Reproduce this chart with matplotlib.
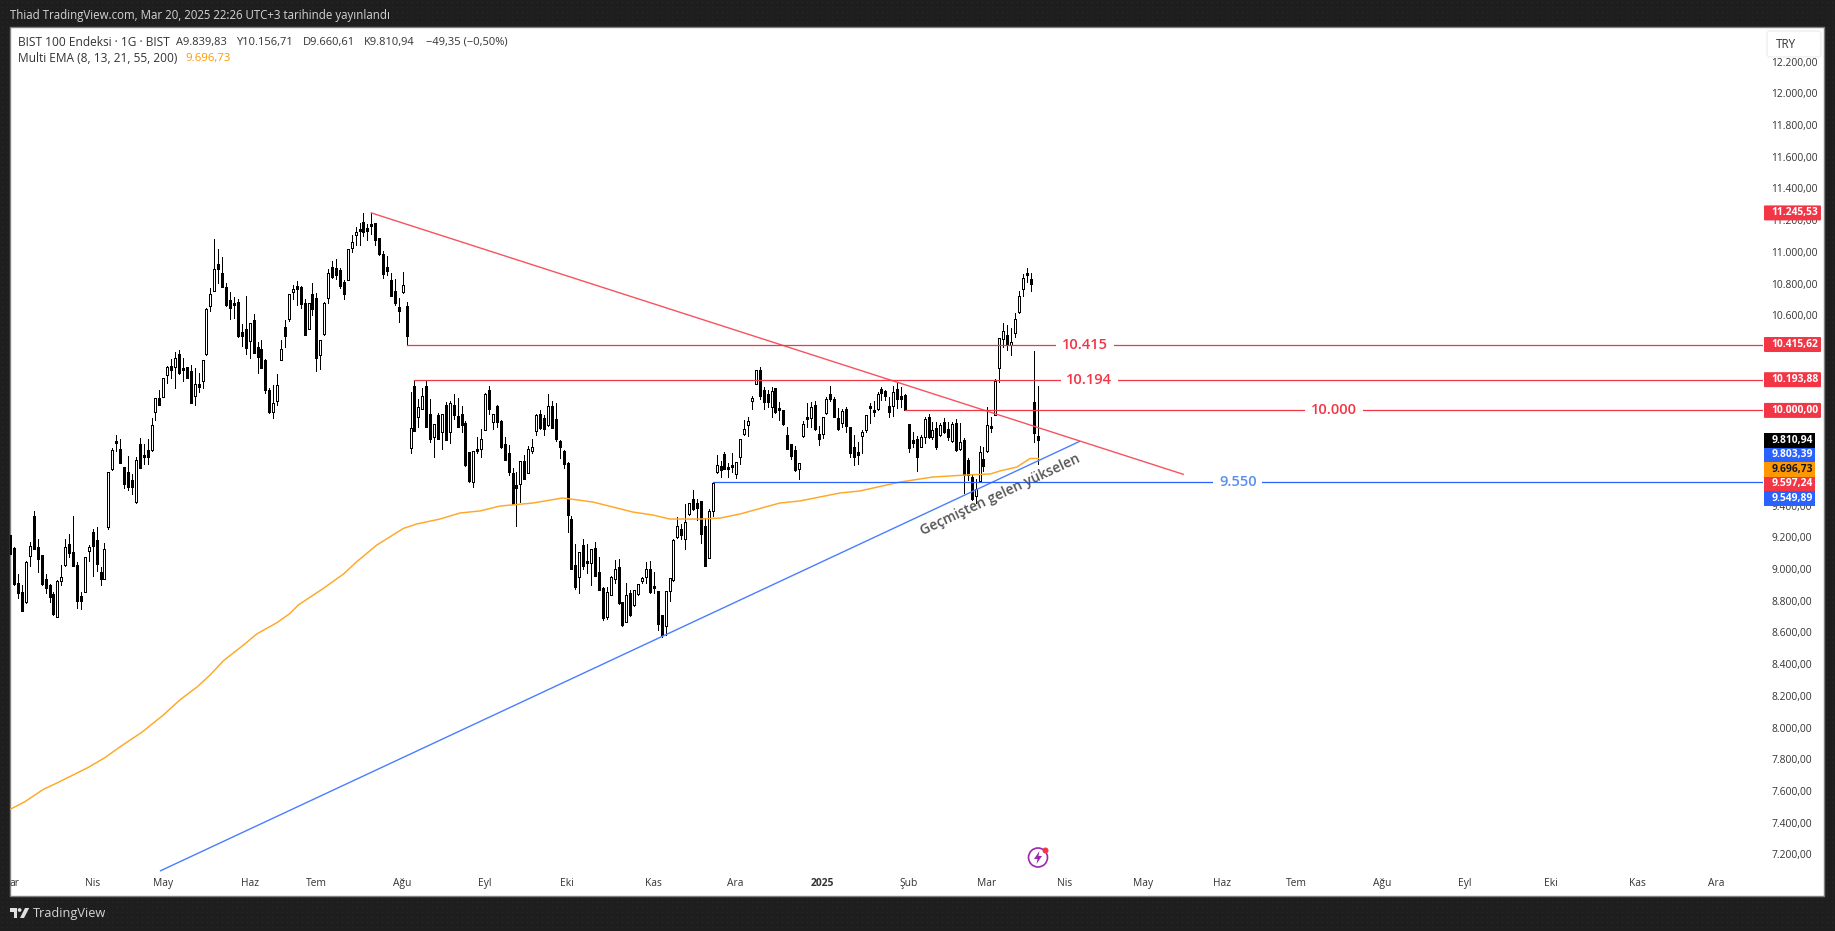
import numpy as np
import matplotlib
matplotlib.use("Agg")
import matplotlib.pyplot as plt
from matplotlib.patches import Rectangle, Circle, Polygon, FancyBboxPatch
from matplotlib.ticker import FuncFormatter
from matplotlib.transforms import Affine2D

W, H = 1835, 931

# daily candles
opens = [
    9214, 9130, 8909, 8855, 8789, 9082, 9334, 9141, 9086, 8934,
    8897, 8840, 8695, 8926, 9027, 9155, 9107, 9025, 8829, 8857,
    9115, 9233, 9183, 8979, 8939, 9267, 9630, 9807, 9757, 9643,
    9611, 9561, 9422, 9788, 9719, 9750, 9750, 9988, 10076, 10087,
    10225, 10280, 10276, 10356, 10265, 10272, 10246, 10089, 10164, 10183,
    10356, 10656, 10755, 10921, 10864, 10776, 10694, 10671, 10682, 10492,
    10511, 10436, 10568, 10398, 10385, 10318, 10129, 9992, 10057, 10316,
    10524, 10579, 10745, 10785, 10776, 10677, 10511, 10732, 10707, 10347,
    10484, 10707, 10902, 10896, 10885, 10810, 10825, 11026, 11104, 11142,
    11186, 11134, 11176, 11180, 11085, 10984, 10902, 10822, 10751, 10652,
    10745, 10656, 9761, 10154, 9956, 10009, 10154, 9977, 9834, 9971,
    9866, 10032, 9862, 10032, 9965, 9975, 9921, 9740, 9550, 9750,
    9754, 9874, 10129, 9925, 10028, 9931, 9788, 9729, 9603, 9529,
    9534, 9681, 9603, 9746, 9868, 9975, 9950, 9906, 10028, 9946,
    9807, 9744, 9668, 9313, 9025, 8947, 9149, 9046, 9035, 9132,
    8979, 8878, 8699, 8838, 8939, 9010, 8789, 8667, 8848, 8770,
    8840, 8926, 8951, 8998, 8886, 8861, 8710, 8642, 8863, 8930,
    9204, 9250, 9187, 9349, 9439, 9414, 9429, 9271, 9071, 9368,
    9609, 9649, 9725, 9641, 9649, 9599, 9704, 9849, 9906, 10057,
    10169, 10253, 10129, 10101, 10019, 10141, 10011, 10002, 9845, 9788,
    9750, 9628, 9841, 9956, 9954, 10034, 9849, 9849, 9981, 10101,
    10072, 9954, 9923, 10007, 9893, 9771, 9721, 9836, 9874, 10030,
    10002, 10007, 10135, 10122, 10028, 10026, 10133, 10089, 10097, 9914,
    9813, 9822, 9771, 9830, 9956, 9830, 9887, 9845, 9925, 9881,
    9805, 9918, 9754, 9813, 9687, 9578, 9460, 9557, 9691, 9742,
    9895, 9973, 10266, 10453, 10476, 10413, 10486, 10619, 10764, 10867,
    10827, 10051, 9839.83,
]
highs = [
    9214, 9141, 8968, 8899, 9050, 9170, 9363, 9187, 9086, 8968,
    8905, 8857, 8930, 9025, 9187, 9220, 9334, 9042, 8857, 9073,
    9151, 9250, 9262, 9010, 9162, 9609, 9761, 9845, 9820, 9643,
    9712, 9599, 9708, 9826, 9788, 9820, 9950, 10076, 10129, 10202,
    10280, 10322, 10368, 10381, 10328, 10272, 10286, 10265, 10234, 10316,
    10644, 10770, 11081, 11016, 10967, 10801, 10749, 10713, 10703, 10545,
    10719, 10553, 10608, 10429, 10442, 10324, 10139, 10158, 10230, 10444,
    10568, 10732, 10791, 10816, 10785, 10703, 10675, 10801, 10738, 10442,
    10682, 10892, 10942, 10953, 10896, 10822, 11016, 11104, 11155, 11180,
    11243, 11176, 11245.53, 11180, 11085, 11007, 10974, 10864, 10827, 10707,
    10873, 10682, 10114, 10193.88, 10070, 10139, 10188, 10070, 9912, 9981,
    9977, 10051, 10059, 10101, 10076, 10028, 9933, 9740, 9742, 9830,
    9881, 10108, 10152, 9977, 10034, 9939, 9830, 9780, 9635, 9614,
    9679, 9719, 9775, 9820, 9977, 10002, 9971, 10101, 10059, 10045,
    9813, 9750, 9672, 9334, 9157, 9105, 9189, 9157, 9124, 9170,
    9073, 8884, 8888, 8955, 9056, 9061, 8794, 8913, 8867, 8867,
    8905, 8951, 9046, 9052, 8979, 8861, 8710, 8861, 8941, 9187,
    9326, 9283, 9410, 9418, 9498, 9439, 9429, 9319, 9376, 9549.89,
    9719, 9683, 9735, 9670, 9729, 9672, 9817, 9937, 9956, 10091,
    10253, 10272, 10150, 10129, 10150, 10141, 10051, 10002, 9893, 9788,
    9775, 9666, 9933, 10049, 10051, 10059, 9902, 9956, 10087, 10154,
    10087, 10013, 10009, 10024, 9897, 9845, 9803, 9876, 9971, 10045,
    10061, 10114, 10145, 10129, 10087, 10154, 10175, 10150, 10101, 9914,
    9866, 9839, 9845, 9956, 9977, 9925, 9925, 9918, 9952, 9929,
    9929, 9948, 9918, 9824, 9698, 9593, 9565, 9775, 9771, 10024,
    9956, 10196, 10455, 10549, 10539, 10518, 10613, 10756, 10861, 10898,
    10865, 10375, 10156.71,
]
lows = [
    9092, 8899, 8815, 8737, 8787, 9021, 9124, 8983, 8899, 8846,
    8794, 8709, 8695, 8899, 9021, 9077, 9021, 8756, 8749, 8857,
    9052, 8958, 8989, 8899, 8939, 9250, 9626, 9746, 9670, 9513,
    9500, 9475, 9418, 9639, 9662, 9662, 9746, 9939, 10036, 10087,
    10175, 10202, 10141, 10230, 10187, 10206, 10049, 10036, 10116, 10141,
    10352, 10629, 10751, 10801, 10780, 10661, 10579, 10585, 10465, 10408,
    10358, 10333, 10360, 10238, 10269, 10112, 9986, 9954, 10036, 10316,
    10402, 10566, 10705, 10667, 10644, 10478, 10511, 10604, 10251, 10263,
    10478, 10679, 10833, 10829, 10770, 10705, 10822, 10997, 11043, 11045,
    11102, 11075, 11113, 11041, 10980, 10837, 10852, 10724, 10663, 10560,
    10743, 10415.62, 9733, 9872, 9897, 10007, 9897, 9803, 9708, 9822,
    9759, 9815, 9796, 9948, 9897, 9864, 9649, 9550, 9519, 9733,
    9704, 9874, 9977, 9881, 9897, 9765, 9687, 9590, 9412, 9273,
    9424, 9565, 9603, 9733, 9845, 9885, 9847, 9902, 9887, 9809,
    9698, 9635, 9235, 9002, 8871, 8850, 9002, 8977, 8899, 8958,
    8867, 8678, 8686, 8836, 8909, 8779, 8640, 8667, 8703, 8768,
    8836, 8909, 8913, 8850, 8850, 8615, 8573, 8583, 8800, 8926,
    9195, 9187, 9126, 9340, 9372, 9309, 9166, 9021, 9067, 9336,
    9607, 9578, 9628, 9578, 9609, 9572, 9660, 9845, 9841, 10011,
    10169, 10074, 10007, 10024, 9960, 9986, 9939, 9908, 9754, 9696,
    9620, 9565, 9832, 9893, 9893, 9876, 9780, 9824, 9977, 10057,
    9956, 9876, 9897, 9866, 9704, 9656, 9660, 9729, 9866, 9923,
    9965, 10002, 10066, 10066, 9960, 9965, 10013, 10024, 10000, 9740,
    9767, 9620, 9771, 9792, 9824, 9822, 9754, 9839, 9860, 9813,
    9801, 9746, 9750, 9477, 9561, 9435, 9418, 9553, 9620, 9738,
    9862, 9969, 10182, 10402, 10381, 10352, 10465, 10617, 10722, 10812,
    10751, 9803, 9660.61,
]
closes = [
    9092, 8903, 8850, 8737, 9046, 9147, 9124, 9061, 8903, 8878,
    8821, 8714, 8924, 8947, 9136, 9103, 9021, 8800, 8800, 9073,
    9136, 9145, 9031, 8939, 9124, 9609, 9750, 9796, 9670, 9538,
    9519, 9519, 9685, 9639, 9712, 9708, 9906, 10076, 10036, 10202,
    10272, 10257, 10328, 10238, 10261, 10206, 10049, 10164, 10150, 10316,
    10640, 10732, 10890, 10890, 10780, 10665, 10648, 10667, 10469, 10471,
    10391, 10549, 10360, 10339, 10269, 10131, 9992, 10045, 10158, 10385,
    10467, 10732, 10764, 10764, 10671, 10478, 10675, 10642, 10333, 10442,
    10675, 10864, 10843, 10856, 10787, 10734, 11016, 11060, 11127, 11129,
    11123, 11148, 11167, 11077, 10984, 10862, 10881, 10724, 10679, 10629,
    10789, 10467, 9887, 9872, 10019, 10089, 9897, 9822, 9912, 9822,
    9977, 9815, 10045, 9973, 9897, 9910, 9656, 9555, 9742, 9746,
    9822, 10103, 10011, 9977, 9929, 9767, 9689, 9614, 9412, 9513,
    9679, 9569, 9754, 9767, 9971, 9889, 9881, 10028, 9887, 9822,
    9771, 9660, 9342, 9002, 8888, 9105, 9021, 9040, 9124, 8958,
    8867, 8693, 8852, 8949, 8998, 8785, 8646, 8834, 8707, 8867,
    8905, 8943, 8998, 8855, 8882, 8655, 8583, 8861, 8941, 9183,
    9269, 9216, 9294, 9414, 9380, 9386, 9223, 9021, 9363, 9544,
    9653, 9626, 9632, 9637, 9645, 9672, 9817, 9881, 9931, 10076,
    10253, 10093, 10053, 10051, 10120, 9988, 10007, 9912, 9759, 9714,
    9624, 9666, 9914, 9944, 10019, 9881, 9822, 9956, 10070, 10074,
    9960, 9883, 9996, 9904, 9729, 9708, 9735, 9862, 9969, 10017,
    9994, 10106, 10108, 10091, 9992, 10114, 10070, 10074, 10000, 9765,
    9792, 9708, 9834, 9948, 9830, 9876, 9771, 9906, 9866, 9830,
    9914, 9750, 9799, 9590, 9593, 9441, 9506, 9735, 9651, 9906,
    9891, 10188, 10455, 10501, 10413, 10430, 10575, 10722, 10833, 10852,
    10795, 9860, 9810.94,
]

# 200 EMA, sampled along the line
ema_idx = [0.1, 3.7, 8.4, 12.2, 16.5, 19.9, 24.1, 28, 33.5, 39, 43.2, 47.5, 50.9, 54.3,
           59.4, 62.8, 67.9, 71.3, 73.4, 79.8, 84.9, 88.3, 93.4, 100.2, 103.6, 109.5,
           114.6, 119.7, 124.8, 133.2, 140.8, 148.5, 158.7, 163.8, 168.1,
           175.8, 180.9, 186, 196.1, 201.2, 211.4, 216.5, 226.7, 235.1, 243.8,
           249.7, 252.2, 256.5, 259.9, 262]
ema_val = [7486, 7532, 7610, 7654, 7707, 7749, 7810, 7879, 7970, 8079, 8174, 8254, 8331, 8421,
           8520, 8590, 8661, 8720, 8773, 8878, 8968, 9046, 9151, 9256, 9284, 9315,
           9353, 9366, 9397, 9416, 9448, 9422, 9359, 9340, 9315,
           9315, 9321, 9347, 9416, 9429, 9479, 9492, 9548, 9580, 9593,
           9599, 9618, 9643, 9697, 9696.73]

# drawings
res_trend_x = [92, 298.9]
res_trend_y = [11245.53, 9597.24]
sup_trend_x = [38.3, 272.4]
sup_trend_y = [7097, 9803.39]

level_prices = [10415.62, 10193.88, 10000.00, 9549.89]
level_starts = [101, 103, 228, 179]
level_texts = ["10.415", "10.194", "10.000", "9.550"]
level_text_x = [273.9, 275, 337.3, 312.8]
level_colors = ["#f23645", "#f23645", "#f23645", "#2962ff"]
level_text_colors = ["#f23645", "#f23645", "#f23645", "#5b8def"]

# the labels under the price badges (10.400, 10.200, ...) are hidden in the reference
yticks = [7200, 7400, 7600, 7800, 8000, 8200, 8400, 8600, 8800, 9000, 9200, 9400,
          10600, 10800, 11000, 11200, 11400, 11600, 11800, 12000, 12200]
xtick_idx = [1.0, 20.9, 38.9, 61.1, 77.9, 99.9, 121, 141.9, 163.8, 184.7, 206.9, 228.8,
             248.8, 268.8, 288.7, 308.8, 327.8, 349.6, 370.7, 392.6, 414.7, 434.7]
xtick_labels = ["ar", "Nis", "May", "Haz", "Tem", "Ağu", "Eyl", "Eki", "Kas", "Ara", "2025", "Şub",
                "Mar", "Nis", "May", "Haz", "Tem", "Ağu", "Eyl", "Eki", "Kas", "Ara"]

# price scale badges
upper_prices = [11245.53, 10415.62, 10193.88, 10000.00]
stack_texts = ["9.810,94", "9.803,39", "9.696,73", "9.597,24", "9.549,89"]
stack_colors = ["#000000", "#2962ff", "#ff9800", "#f23645", "#2962ff"]
stack_text_colors = ["white", "white", "#131722", "white", "white"]

FONT = "Open Sans"
DARK = "#1e1e1e"
TICK_COL = "#333333"
plt.rcParams["font.family"] = [FONT, "DejaVu Sans"]


def tr_fmt(v):
    return f"{v:,.2f}".replace(",", "#").replace(".", ",").replace("#", ".")


fig = plt.figure(figsize=(W / 100, H / 100), dpi=100, facecolor=DARK)
# pixel coords measured from the top-left, for the page furniture
px = Affine2D().scale(1, -1).translate(0, H)

# faint dot texture of the dark page
tex = np.full((H, W, 3), 0x1e, dtype=np.uint8)
tex[2::5, 2::5] = 0x2b
fig.figimage(tex, zorder=-2)

fig.add_artist(Rectangle((10, 27), 1814, 869, transform=px, fc="white", ec="#808080", lw=1, zorder=-1))

ax = fig.add_axes([10 / W, 1 - 872 / H, 1753 / W, 845 / H])
ax.patch.set_visible(False)
for s in ax.spines.values():
    s.set_visible(False)
ax.set_xlim(-0.076, 446.66)
ax.set_ylim(7089, 12418)

idx = np.arange(len(opens))
o, h, l, c = map(np.array, (opens, highs, lows, closes))
up = c >= o
top, bot = np.maximum(o, c), np.minimum(o, c)
PT_PER_PX = (12418 - 7089) / 845
mid = (top + bot) / 2
# keep dojis at least 2 px tall
body_top = np.maximum(top, mid + PT_PER_PX)
body_bot = np.minimum(bot, mid - PT_PER_PX)
ax.vlines(idx, l, h, color="black", lw=0.72, antialiased=False, zorder=2.6)
ax.vlines(idx, body_bot, body_top, color="black", lw=2.16, antialiased=False, capstyle="butt", zorder=2.7)
hollow = up & (body_top - body_bot > 2.5 * PT_PER_PX)
ax.vlines(idx[hollow], body_bot[hollow] + PT_PER_PX, body_top[hollow] - PT_PER_PX, color="white", lw=0.72,
          antialiased=False, capstyle="butt", zorder=2.8)

ax.plot(ema_idx, ema_val, color="#ffa726", lw=1.05, zorder=3)

ax.plot(res_trend_x, res_trend_y, color="#f7525f", lw=1.0, zorder=4)
ax.plot(sup_trend_x, sup_trend_y, color="#4a7dff", lw=1.0, zorder=4)

for price, start, txt, tx, col, tcol in zip(level_prices, level_starts, level_texts,
                                            level_text_x, level_colors, level_text_colors):
    ax.plot([start, 446.66], [price, price], color=col, lw=0.9, zorder=4)
    ax.text(tx, price, txt, color=tcol, fontsize=10.5, ha="center", va="center", zorder=5,
            fontweight="semibold", bbox=dict(fc="white", ec="none", pad=4.2))

ax.text(252.2, 9470, "Geçmişten gelen yükselen", color="#555555", fontsize=10, rotation=25,
        rotation_mode="anchor", ha="center", va="center", zorder=5, fontweight="semibold")

ax.yaxis.tick_right()
ax.set_yticks(yticks)
ax.yaxis.set_major_formatter(FuncFormatter(lambda v, _: tr_fmt(v)))
ax.tick_params(axis="y", length=0, pad=6, labelsize=7.4, labelcolor=TICK_COL)
ax.set_xticks(xtick_idx)
ax.set_xticklabels(xtick_labels)
ax.tick_params(axis="x", length=0, pad=4, labelsize=7.4, labelcolor=TICK_COL)
for lab in ax.get_xticklabels():
    if lab.get_text() == "2025":
        lab.set_fontweight("bold")

# price scale badges
for price in upper_prices:
    ypx = H - ax.transData.transform((0, price))[1]
    fig.add_artist(FancyBboxPatch((1765, ypx - 6.5), 55, 13, boxstyle="round,pad=1,rounding_size=1",
                                  transform=px, fc="#f23645", ec="none", zorder=5))
    fig.text(1771.5 / W, 1 - ypx / H, tr_fmt(price), color="white", fontsize=7.4, fontweight="bold",
             va="center", ha="left", zorder=6)
for i, (txt, col, tcol) in enumerate(zip(stack_texts, stack_colors, stack_text_colors)):
    ypx = 440.3 + 14.5 * i
    fig.add_artist(Rectangle((1764, ypx - 7.25), 51, 14.5, transform=px, fc=col, ec="none", zorder=5))
    fig.text(1771.5 / W, 1 - ypx / H, txt, color=tcol, fontsize=7.4, fontweight="bold",
             va="center", ha="left", zorder=6)

# currency button
fig.add_artist(FancyBboxPatch((1768, 32), 52, 24, boxstyle="round,pad=1,rounding_size=3",
                              transform=px, fc="white", ec="#f0eeee", lw=1, zorder=5))
fig.text(1776 / W, 1 - 44.5 / H, "TRY", color="#333333", fontsize=8.5, va="center", zorder=6)

# header and legend
fig.text(10 / W, 1 - 15 / H, "Thiad TradingView.com, Mar 20, 2025 22:26 UTC+3 tarihinde yayınlandı",
         color="#d4d4d4", fontsize=8.3, va="center")
legend_parts = [(18, "BIST 100 Endeksi · 1G · BIST", 8.6), (175.5, "A9.839,83", 8), (236.5, "Y10.156,71", 8),
                (303, "D9.660,61", 8), (364, "K9.810,94", 8), (425.5, "−49,35 (−0,50%)", 8)]
for x, txt, fs in legend_parts:
    fig.text(x / W, 1 - 42 / H, txt, color="#333333", fontsize=fs, va="center")
fig.text(18 / W, 1 - 59 / H, "Multi EMA (8, 13, 21, 55, 200)", color="#333333", fontsize=8.6, va="center")
fig.text(185 / W, 1 - 59 / H, "9.696,73", color="#ff9800", fontsize=8.2, va="center")

# TradingView logo
fig.add_artist(Polygon([(10, 908), (17, 908), (17, 918), (13.5, 918), (13.5, 912), (10, 912)],
                       transform=px, fc="#e0e0e0", ec="none"))
fig.add_artist(Circle((19.6, 910), 1.9, transform=px, fc="#e0e0e0", ec="none"))
fig.add_artist(Polygon([(25, 908), (29.2, 908), (24, 918), (20, 918)], transform=px, fc="#e0e0e0", ec="none"))
fig.text(33 / W, 1 - 913 / H, "TradingView", color="#d4d4d4", fontsize=9.2, va="center")

# earnings/news bolt icon
fig.add_artist(Circle((1038, 857.5), 9.5, transform=px, fc="white", ec="#9c27b0", lw=1.2, zorder=5))
fig.add_artist(Polygon([(1039.5, 851), (1034, 859), (1037.5, 859), (1036.5, 864), (1042, 856), (1038.5, 856)],
                       transform=px, fc="#9c27b0", ec="none", zorder=6))
fig.add_artist(Circle((1045.5, 850.5), 3, transform=px, fc="#f23645", ec="none", zorder=6))

fig.savefig("out.png", dpi=100, facecolor=DARK)
